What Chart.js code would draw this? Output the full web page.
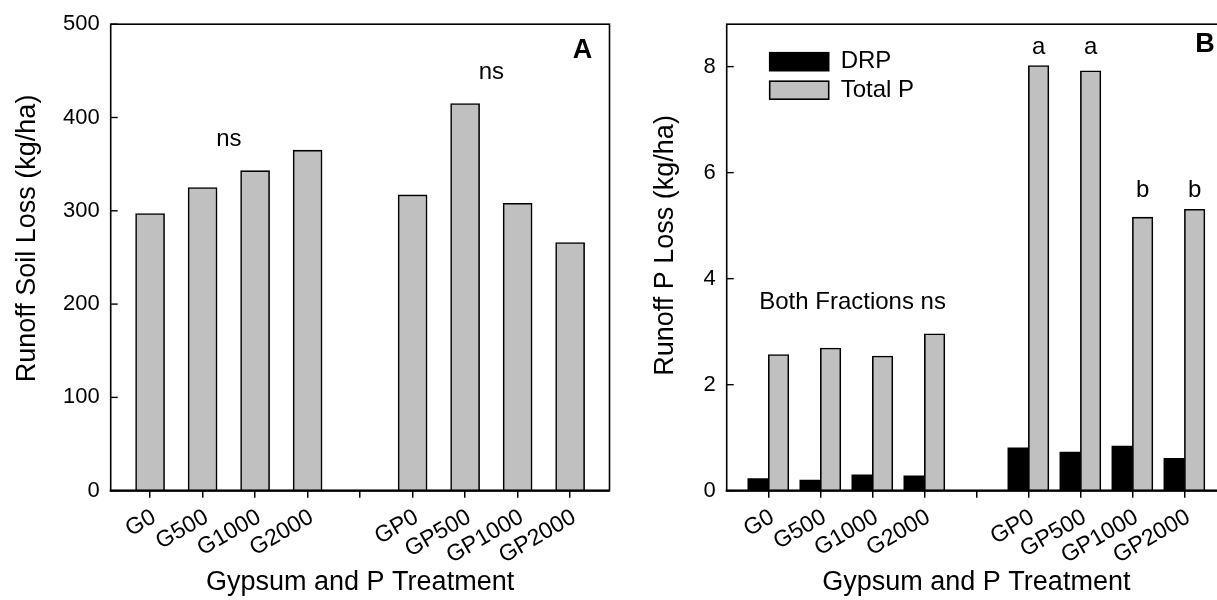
<!DOCTYPE html>
<html><head><meta charset="utf-8">
<script src="https://cdn.jsdelivr.net/npm/chart.js@4.4.1/dist/chart.umd.min.js"></script>
<style>
html,body{margin:0;padding:0;background:#fff;overflow:hidden;width:1217px;height:600px;}
#wrap{position:relative;width:1217px;height:600px;overflow:hidden;background:#fff;}
#ca{position:absolute;left:0;top:0;}
#cb{position:absolute;left:620px;top:0;}
</style></head><body>
<div id="wrap"><canvas id="ca" width="620" height="600"></canvas><canvas id="cb" width="620" height="600"></canvas></div>
<script>
// ---- data ----
const categories = ['G0','G500','G1000','G2000','','GP0','GP500','GP1000','GP2000'];
const soilLoss  = [297, 325, 343, 365, null, 317, 415, 308, 266];
const drp       = [0.23, 0.20, 0.30, 0.28, null, 0.81, 0.73, 0.84, 0.61];
const totalP    = [2.57, 2.69, 2.54, 2.96, null, 8.02, 7.92, 5.16, 5.31];
const yTicksA   = [0, 100, 200, 300, 400, 500];
const yTicksB   = [0, 2, 4, 6, 8];
const notesA    = [{t:'ns', x:2.5, y:377}, {t:'ns', x:7.5, y:448}];
const notesB    = [{t:'a', x:6.2, y:8.36}, {t:'a', x:7.2, y:8.36}, {t:'b', x:8.2, y:5.66}, {t:'b', x:9.2, y:5.66}, {t:'Both Fractions ns', x:2.62, y:3.55}];
const titleX    = 'Gypsum and P Treatment';
const titleYA   = 'Runoff Soil Loss (kg/ha)';
const titleYB   = 'Runoff P Loss (kg/ha)';

const FONT = "'Liberation Sans', Arial, Helvetica, sans-serif";
Chart.defaults.font.family = FONT;
Chart.defaults.color = '#000';

function pts(arr){ return categories.map((c,i)=>({x:i+1, y:arr[i]})).filter(p=>p.y!==null); }

const framePlugin = {
  id:'frame',
  afterDatasetsDraw(chart, args, opts){
    const ctx = chart.ctx, a = chart.chartArea;
    const xs = chart.scales.x, ys = chart.scales.y;
    ctx.save();
    ctx.strokeStyle = '#000';
    ctx.lineWidth = 1.6;
    ctx.strokeRect(a.left, a.top, a.right - a.left, a.bottom - a.top);
    ctx.lineWidth = 2.2;
    ctx.beginPath(); ctx.moveTo(a.left-1, a.bottom); ctx.lineTo(a.right, a.bottom); ctx.stroke();
    // inward y ticks
    ctx.lineWidth = 1.4;
    ys.ticks.forEach(t=>{
      const y = ys.getPixelForValue(t.value);
      ctx.beginPath(); ctx.moveTo(a.left, y); ctx.lineTo(a.left+7, y); ctx.stroke();
    });
    // y axis title
    ctx.fillStyle = '#000';
    ctx.textAlign = 'center'; ctx.textBaseline = 'middle';
    ctx.font = '27px ' + FONT;
    ctx.save();
    ctx.translate(opts.ytX, (a.top + a.bottom)/2 - opts.ytUp);
    ctx.rotate(-Math.PI/2);
    ctx.fillText(opts.yTitle, 0, 0);
    ctx.restore();
    // notes
    ctx.font = '24px ' + FONT;
    (opts.notes||[]).forEach(n=>{
      ctx.fillText(n.t, xs.getPixelForValue(n.x), ys.getPixelForValue(n.y));
    });
    // panel letter
    ctx.font = 'bold 27px ' + FONT;
    ctx.fillText(opts.letter, a.right + opts.letterDx, a.top + opts.letterDy);
    // legend
    if (opts.legend){
      ctx.font = '24px ' + FONT;
      ctx.textAlign = 'left';
      chart.data.datasets.forEach((ds,i)=>{
        const x0 = a.left + 43, y0 = a.top + 28.5 + i*28.5;
        ctx.fillStyle = ds.backgroundColor;
        ctx.fillRect(x0, y0, 59, 18);
        ctx.lineWidth = 1.6; ctx.strokeStyle = '#000';
        ctx.strokeRect(x0, y0, 59, 18);
        ctx.fillStyle = '#000';
        ctx.fillText(ds.label, x0 + 71, y0 + 9);
      });
    }
    ctx.restore();
  }
};

function xScale(min, max){
  return {
    type:'linear', min, max, offset:false,
    afterBuildTicks(s){ s.ticks = categories.map((c,i)=>({value:i+1})); },
    afterFit(s){ s.height = 109.3; },
    grid:{display:true, offset:false, drawOnChartArea:false, drawTicks:true, tickLength:7, color:'#000', lineWidth:1.5},
    border:{display:false},
    ticks:{autoSkip:false, minRotation:30, maxRotation:30, padding:6, labelOffset:4, font:{size:23},
      callback:(v)=>categories[Math.round(v)-1]},
    title:{display:true, text:titleX, font:{size:27}, padding:{top:0,bottom:1}}
  };
}
function yScale(max, ticks, width){
  return {
    type:'linear', min:0, max,
    afterBuildTicks(s){ s.ticks = ticks.map(v=>({value:v})); },
    afterFit(s){ s.width = width; },
    grid:{display:false, drawTicks:false},
    border:{display:false},
    ticks:{padding:11, font:{size:22}},
    title:{display:false}
  };
}

new Chart(document.getElementById('ca'), {
  type:'bar',
  data:{datasets:[{label:'Soil Loss', data:pts(soilLoss), backgroundColor:'#c0c0c0', borderColor:'#000', borderWidth:1.6, barThickness:29}]},
  options:{
    responsive:false, animation:false, devicePixelRatio:1,
    layout:{padding:{top:23.3, right:10.5, left:0, bottom:0}},
    plugins:{legend:{display:false}, tooltip:{enabled:false},
      frame:{notes:notesA, letter:'A', letterDx:-27, letterDy:26, yTitle:titleYA, ytX:28, ytUp:19}},
    scales:{ x:xScale(0.25, 9.75), y:yScale(500, yTicksA, 110.7) }
  },
  plugins:[framePlugin]
});

new Chart(document.getElementById('cb'), {
  type:'bar',
  data:{datasets:[
    {label:'DRP', data:pts(drp), backgroundColor:'#000000', borderColor:'#000', borderWidth:0, barThickness:20.5},
    {label:'Total P', data:pts(totalP), backgroundColor:'#c0c0c0', borderColor:'#000', borderWidth:1.6, barThickness:20.5}
  ]},
  options:{
    responsive:false, animation:false, devicePixelRatio:1,
    layout:{padding:{top:23.3, right:14, left:0, bottom:0}},
    plugins:{legend:{display:false}, tooltip:{enabled:false},
      frame:{notes:notesB, letter:'B', letterDx:-21, letterDy:20, legend:true, yTitle:titleYB, ytX:46, ytUp:12}},
    scales:{ x:xScale(0.2, 9.8), y:yScale(8.8, yTicksB, 106.7) }
  },
  plugins:[framePlugin]
});
</script>
</body></html>
